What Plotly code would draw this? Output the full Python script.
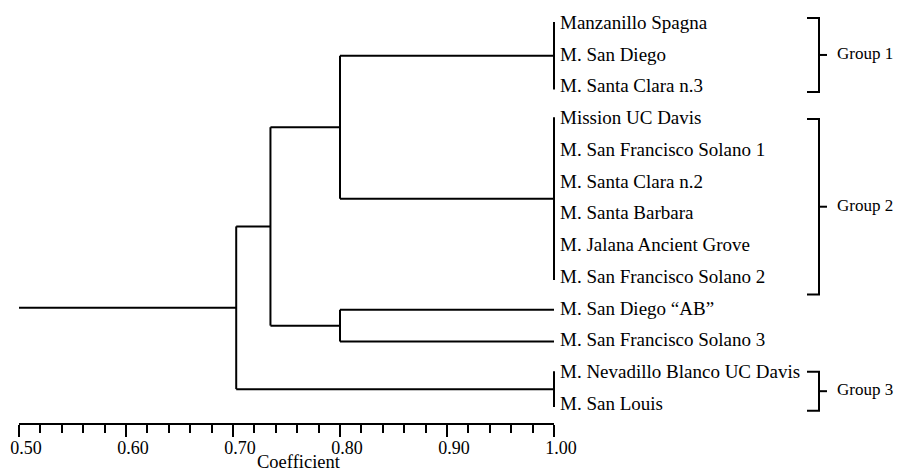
import plotly.graph_objects as go

# ---- data -------------------------------------------------------------
leaves = [
    "Manzanillo Spagna",
    "M. San Diego",
    "M. Santa Clara n.3",
    "Mission UC Davis",
    "M. San Francisco Solano 1",
    "M. Santa Clara n.2",
    "M. Santa Barbara",
    "M. Jalana Ancient Grove",
    "M. San Francisco Solano 2",
    "M. San Diego \u201cAB\u201d",
    "M. San Francisco Solano 3",
    "M. Nevadillo Blanco UC Davis",
    "M. San Louis",
]

# identical profiles (coefficient 1.00): first and last leaf row
fused_names = ["G1", "G2", "G3"]
fused_first = [0, 3, 11]
fused_last = [2, 8, 12]

# agglomeration steps: left cluster, right cluster, similarity, new id
merge_left = ["G1", "L9", "A", "C"]
merge_right = ["G2", "L10", "B", "G3"]
merge_coef = [0.80, 0.80, 0.735, 0.703]
merge_id = ["A", "B", "C", "D"]
root_coef = 0.50

# group brackets: label, top row, bottom row
group_labels = ["Group 1", "Group 2", "Group 3"]
group_top = [-0.19, 2.99, 10.95]
group_bottom = [2.14, 8.52, 12.18]

major_ticks = [0.50, 0.60, 0.70, 0.80, 0.90, 1.00]
major_text = ["0.50", "0.60", "0.70", "0.80", "0.90", "1.00"]
minor_ticks = [round(0.50 + 0.02 * k, 2) for k in range(1, 25) if k % 5 != 0]

# ---- geometry helpers (pixel layout of the page) ---------------------
W, H = 900, 471
AX_L, AX_R = 19, 554          # pixel span of 0.50 .. 1.00
PX_PER_UNIT = (AX_R - AX_L) / 0.5
M_T, M_B = 10, 48
ROW0_PX, ROW_STEP = 24, 31.75


def px_to_coef(px):
    return 0.5 + (px - AX_L) / PX_PER_UNIT


def py_to_row(py):
    return (py - ROW0_PX) / ROW_STEP


y_top = py_to_row(M_T)
y_bot = py_to_row(H - M_B)
x2_range = [px_to_coef(0), px_to_coef(W)]

# ---- build dendrogram segments ---------------------------------------
pos = {}      # cluster -> (coef, row centre)
xs, ys = [], []


def seg(x0, y0, x1, y1):
    xs.extend([x0, x1, None])
    ys.extend([y0, y1, None])


for i in range(len(leaves)):
    pos["L%d" % i] = (1.0, i)
for name, a, b in zip(fused_names, fused_first, fused_last):
    seg(1.0, a - 0.06, 1.0, b + 0.06)
    pos[name] = (1.0, (a + b) / 2)

for l, r, c, nid in zip(merge_left, merge_right, merge_coef, merge_id):
    lx, ly = pos[l]
    rx, ry = pos[r]
    seg(lx, ly, c, ly)
    seg(rx, ry, c, ry)
    seg(c, ly, c, ry)
    pos[nid] = (c, (ly + ry) / 2)

rc, ry = pos[merge_id[-1]]
seg(root_coef, ry, rc, ry)

fig = go.Figure()

# invisible trace to carry the coefficient axis
fig.add_trace(go.Scatter(x=[0.5, 1.0], y=[0, 0], mode="markers",
                         marker=dict(opacity=0), hoverinfo="skip",
                         showlegend=False, xaxis="x", yaxis="y"))

fig.add_trace(go.Scatter(x=xs, y=ys, mode="lines",
                         line=dict(color="black", width=2),
                         hoverinfo="skip", showlegend=False,
                         xaxis="x2", yaxis="y"))

# leaf labels
fig.add_trace(go.Scatter(x=[px_to_coef(560)] * len(leaves),
                         y=list(range(len(leaves))), mode="text",
                         text=leaves, textposition="middle right",
                         textfont=dict(family="Liberation Serif", size=19,
                                       color="black"),
                         cliponaxis=False, hoverinfo="skip",
                         showlegend=False, xaxis="x2", yaxis="y"))

# group brackets
bx0, bx1, bx2 = px_to_coef(807), px_to_coef(819), px_to_coef(827)
bxs, bys, tx, ty = [], [], [], []
for lab, t, b in zip(group_labels, group_top, group_bottom):
    m = (t + b) / 2
    bxs += [bx0, bx1, bx1, bx0, None, bx1, bx2, None]
    bys += [t, t, b, b, None, m, m, None]
    tx.append(px_to_coef(837))
    ty.append(m)
fig.add_trace(go.Scatter(x=bxs, y=bys, mode="lines",
                         line=dict(color="black", width=2),
                         hoverinfo="skip", showlegend=False,
                         xaxis="x2", yaxis="y"))
fig.add_trace(go.Scatter(x=tx, y=ty, mode="text", text=group_labels,
                         textposition="middle right",
                         textfont=dict(family="Liberation Serif", size=17,
                                       color="black"),
                         cliponaxis=False, hoverinfo="skip",
                         showlegend=False, xaxis="x2", yaxis="y"))

fig.update_layout(
    width=W, height=H,
    margin=dict(l=0, r=0, t=M_T, b=M_B, autoexpand=False),
    paper_bgcolor="white", plot_bgcolor="white",
    showlegend=False,
    xaxis=dict(domain=[AX_L / W, AX_R / W], range=[0.5, 1.0],
               anchor="y", tickmode="array", tickvals=major_ticks,
               ticktext=major_text, ticks="outside", ticklen=12,
               tickwidth=2, tickcolor="black", showline=True,
               linecolor="black", linewidth=2, showgrid=False,
               zeroline=False, ticklabelshift=7, ticklabelstandoff=-5,
               automargin=False,
               tickfont=dict(family="Liberation Serif", size=18,
                             color="black"),
               minor=dict(tickmode="array", tickvals=minor_ticks,
                          ticks="outside", ticklen=8, tickwidth=2,
                          tickcolor="black", showgrid=False)),
    xaxis2=dict(domain=[0, 1], range=x2_range, anchor="y",
                visible=False, showgrid=False, zeroline=False,
                automargin=False),
    yaxis=dict(range=[y_bot, y_top], visible=False, showgrid=False,
               zeroline=False, automargin=False),
    annotations=[dict(text="Coefficient", x=px_to_coef(299), xref="x2",
                      y=(H - 462 - M_B) / (H - M_T - M_B), yref="paper",
                      showarrow=False, yanchor="middle", borderpad=0,
                      font=dict(family="Liberation Serif", size=18.5,
                                color="black"))],
)

fig.write_html("out.html")
